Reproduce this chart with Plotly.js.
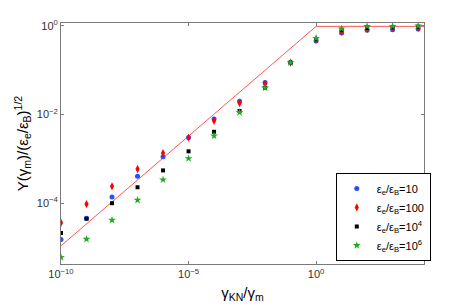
<!DOCTYPE html>
<html>
<head>
<meta charset="utf-8">
<script src="https://cdn.plot.ly/plotly-3.0.1.min.js"></script>
<style>html,body{margin:0;padding:0;background:#fff;}#chart{width:469px;height:308px;}</style>
</head>
<body>
<div id="chart"></div>
<script>
// x values: gamma_KN / gamma_m
const xVals = [1e-10,1e-9,1e-8,1e-7,1e-6,1e-5,1e-4,1e-3,1e-2,1e-1,1,10,100,1000,10000];
// log10 of Y(gamma_m)/(eps_e/eps_B)^(1/2)
const logY10   = [-4.82,-4.34,-3.86,-3.39,-2.95,-2.52,-2.10,-1.70,-1.28,-0.83,-0.34,-0.16,-0.10,-0.09,-0.075];
const logY100  = [-4.44,-4.02,-3.62,-3.23,-2.87,-2.52,-2.14,-1.74,-1.31,-0.83,-0.31,-0.13,-0.065,-0.05,-0.045];
const logY1e4  = [-4.67,-4.35,-4.00,-3.64,-3.26,-2.83,-2.39,-1.92,-1.40,-0.83,-0.30,-0.09,-0.05,-0.03,-0.02];
const logY1e6  = [-5.22,-4.81,-4.38,-3.93,-3.47,-2.99,-2.48,-1.95,-1.40,-0.83,-0.28,-0.065,-0.01,-0.01,0.0];
// analytic guide line
const lineX = [1e-10, 1, Math.pow(10,4.23)];
const lineLogY = [-4.96, -0.013, -0.013];

const legendNames = [
  'ε<sub>e</sub>/ε<sub>B</sub>=10',
  'ε<sub>e</sub>/ε<sub>B</sub>=100',
  'ε<sub>e</sub>/ε<sub>B</sub>=10<sup>4</sup>',
  'ε<sub>e</sub>/ε<sub>B</sub>=10<sup>6</sup>'
];
const xTickVals = [1e-10, 1e-5, 1];
const xTickText = ['10<sup>−10</sup>','10<sup>−5</sup>','10<sup>0</sup>'];
const yTickVals = [1e-4, 1e-2, 1];
const yTickText = ['10<sup>−4</sup>','10<sup>−2</sup>','10<sup>0</sup>'];

const pw = v => v.map(l => Math.pow(10, l));

const traces = [
  {x: lineX, y: pw(lineLogY), mode:'lines', line:{color:'#ff5555', width:1}, showlegend:false, hoverinfo:'skip'},
  {x: xVals, y: pw(logY10), mode:'markers', name: legendNames[0], marker:{symbol:'circle', size:5, color:'#2a4dff'}},
  {x: xVals, y: pw(logY100), mode:'markers', name: legendNames[1], marker:{symbol:'diamond-tall', size:6, color:'#ff0000'}},
  {x: xVals, y: pw(logY1e4), mode:'markers', name: legendNames[2], marker:{symbol:'square', size:4, color:'#000000'}},
  {x: xVals, y: pw(logY1e6), mode:'markers', name: legendNames[3], marker:{symbol:'star', size:6, color:'#22aa22'}}
];

const axisCommon = {
  type:'log', showgrid:false, zeroline:false, showline:true, linecolor:'#7a7a7a', linewidth:1,
  mirror:'ticks', ticks:'inside', ticklen:3, tickcolor:'#7a7a7a',
  tickfont:{family:'Liberation Sans, Arial, sans-serif', size:11, color:'#333'}
};

const layout = {
  width:469, height:308,
  margin:{l:61, r:45, t:23, b:44},
  paper_bgcolor:'#fff', plot_bgcolor:'#fff',
  font:{family:'Liberation Sans, Arial, sans-serif'},
  xaxis: Object.assign({}, axisCommon, {
    range:[-10, 4.23], tickvals:xTickVals, ticktext:xTickText,
    title:{text:'γ<sub>KN</sub>/γ<sub>m</sub>', font:{size:15, color:'#000'}, standoff:8}
  }),
  yaxis: Object.assign({}, axisCommon, {
    range:[-5.37, 0.063], tickvals:yTickVals, ticktext:yTickText,
    title:{text:'Y(γ<sub>m</sub>)/(ε<sub>e</sub>/ε<sub>B</sub>)<sup>1/2</sup>', font:{size:15, color:'#000'}, standoff:4}
  }),
  legend:{x:0.757, y:0.378, xanchor:'left', yanchor:'top', bordercolor:'#000', borderwidth:1,
    bgcolor:'#fff', font:{size:11, color:'#000'}, itemwidth:30},
  showlegend:true
};

Plotly.newPlot('chart', traces, layout, {displayModeBar:false, staticPlot:true});
</script>
</body>
</html>
